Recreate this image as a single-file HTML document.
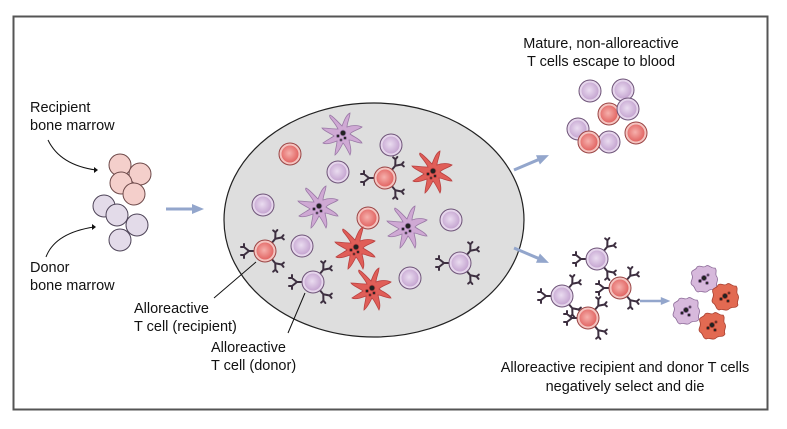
<!DOCTYPE html>
<html><head><meta charset="utf-8"><style>
html,body{margin:0;padding:0;background:#fff;width:787px;height:429px;overflow:hidden}
text{font-family:"Liberation Sans",sans-serif;font-size:14.5px;fill:#111}
</style></head><body>
<svg width="787" height="429" viewBox="0 0 787 429" xmlns="http://www.w3.org/2000/svg">
<defs>
<radialGradient id="gp" cx="0.45" cy="0.45" r="0.6"><stop offset="0" stop-color="#eadcf0"/><stop offset="1" stop-color="#c3a2cf"/></radialGradient>
<radialGradient id="gr" cx="0.45" cy="0.45" r="0.6"><stop offset="0" stop-color="#f6b0ac"/><stop offset="1" stop-color="#e0605e"/></radialGradient>
<g id="pc"><circle r="11" fill="#e6d6ec" stroke="#6e5478" stroke-width="1"/><circle r="8.5" fill="url(#gp)"/></g>
<g id="rc"><circle r="11" fill="#f4c4c0" stroke="#9a4444" stroke-width="1"/><circle r="8.5" fill="url(#gr)"/></g>
<g id="rec" stroke="#3d2f40" stroke-width="2" fill="none" stroke-linecap="round">
<path d="M10 0 L16 0 M16 0 L21 -4 M16 0 L21 4 M21 -4 L24 -4 M21 -4 L21 -7 M21 4 L24 4 M21 4 L21 7"/></g>
<g id="recs"><use href="#rec" transform="rotate(-50)"/><use href="#rec" transform="rotate(180)"/><use href="#rec" transform="rotate(50)"/></g>
<g id="ptc"><use href="#recs"/><use href="#pc"/></g>
<g id="rtc"><use href="#recs"/><use href="#rc"/></g>
<g id="dcs"><path d="M-4 -6 C-8 -14 -14 -18 -12 -20 C-8 -18 -3 -12 0 -9 C2 -14 4 -20 8 -22 C8 -18 5 -12 5 -8 C10 -10 16 -10 20 -8 C16 -5 10 -4 8 -1 C12 2 18 4 20 8 C15 8 10 5 7 5 C8 10 10 16 8 20 C6 16 3 10 1 8 C-1 12 -4 18 -7 20 C-7 15 -5 10 -5 6 C-10 8 -16 10 -19 8 C-15 5 -11 3 -8 1 C-12 -2 -18 -4 -20 -7 C-15 -7 -10 -6 -4 -6 Z"/>
<g fill="#222"><circle cx="1" cy="-2" r="2.8"/><circle cx="-4" cy="1" r="1.6"/><circle cx="3" cy="3" r="1.5"/><circle cx="-1" cy="5" r="1.3"/></g></g>
<g id="dead"><path d="M-12 -4 C-14 -10 -8 -8 -7 -12 C-4 -15 -1 -10 2 -13 C5 -15 7 -10 11 -11 C14 -8 10 -5 13 -2 C15 2 11 4 13 8 C11 12 7 9 4 12 C1 15 -2 11 -6 13 C-10 12 -8 8 -12 6 C-15 3 -10 0 -12 -4 Z"/>
<g fill="#222"><circle cx="0" cy="-1" r="2.6"/><circle cx="-4" cy="2" r="1.6"/><circle cx="3" cy="4" r="1.5"/><circle cx="4" cy="-4" r="1.2"/></g></g>
<g id="dcp"><g fill="#cfa9d4" stroke="#9a78a6" stroke-width="0.8"><use href="#dcs"/></g></g>
<g id="dcr"><g fill="#e05e58" stroke="#b94040" stroke-width="0.8"><use href="#dcs"/></g></g>
<g id="arr"><path d="M0 0 L28 0" stroke="#93a6cc" stroke-width="3"/><path d="M26 -5 L38 0 L26 5 Z" fill="#93a6cc"/></g>
</defs>

<rect x="13.5" y="16.5" width="754" height="393" fill="#fff" stroke="#555" stroke-width="2"/>

<g stroke="#6e4a4a" stroke-width="1" fill="#f4cfcb">
<circle cx="120" cy="165" r="11"/><circle cx="140" cy="174" r="11"/><circle cx="121" cy="183" r="11"/><circle cx="134" cy="194" r="11"/></g>
<g stroke="#4e4458" stroke-width="1" fill="#e3dbe9">
<circle cx="104" cy="206" r="11"/><circle cx="117" cy="215" r="11"/><circle cx="137" cy="225" r="11"/><circle cx="120" cy="240" r="11"/></g>
<text x="30" y="112">Recipient</text><text x="30" y="130">bone marrow</text>
<text x="30" y="272">Donor</text><text x="30" y="290">bone marrow</text>
<path d="M48 140 Q60 165 96 170" fill="none" stroke="#111" stroke-width="1"/><path d="M94 167 L98 170 L94 173Z" fill="#111"/>
<path d="M46 257 Q55 233 94 227" fill="none" stroke="#111" stroke-width="1"/><path d="M92 224 L96 227 L92 230Z" fill="#111"/>

<use href="#arr" transform="translate(166,209)"/>

<ellipse cx="374" cy="220" rx="150" ry="117" fill="#dedede" stroke="#222" stroke-width="1.2"/>
<use href="#dcp" transform="translate(342,135)"/>
<use href="#rc" transform="translate(290,154)"/>
<use href="#pc" transform="translate(391,145)"/>
<use href="#pc" transform="translate(338,172)"/>
<use href="#rtc" transform="translate(385,178)"/>
<use href="#dcr" transform="translate(432,173)"/>
<use href="#pc" transform="translate(263,205)"/>
<use href="#dcp" transform="translate(318,208)"/>
<use href="#rc" transform="translate(368,218)"/>
<use href="#dcp" transform="translate(407,228)"/>
<use href="#pc" transform="translate(451,220)"/>
<use href="#rtc" transform="translate(265,251)"/>
<use href="#pc" transform="translate(302,246)"/>
<use href="#dcr" transform="translate(355,249)"/>
<use href="#ptc" transform="translate(460,263)"/>
<use href="#ptc" transform="translate(313,282)"/>
<use href="#pc" transform="translate(410,278)"/>
<use href="#dcr" transform="translate(371,290)"/>

<path d="M256 262 L214 298" stroke="#111" stroke-width="1"/>
<path d="M305 293 L288 333" stroke="#111" stroke-width="1"/>
<text x="134" y="313">Alloreactive</text><text x="134" y="331">T cell (recipient)</text>
<text x="211" y="352">Alloreactive</text><text x="211" y="370">T cell (donor)</text>

<use href="#arr" transform="translate(514,170) rotate(-23)"/>
<use href="#arr" transform="translate(514,248) rotate(23)"/>

<text x="601" y="48" text-anchor="middle">Mature, non-alloreactive</text>
<text x="601" y="66" text-anchor="middle">T cells escape to blood</text>
<use href="#pc" transform="translate(590,91)"/>
<use href="#pc" transform="translate(623,90)"/>
<use href="#rc" transform="translate(609,114)"/>
<use href="#pc" transform="translate(628,109)"/>
<use href="#pc" transform="translate(578,129)"/>
<use href="#pc" transform="translate(609,142)"/>
<use href="#rc" transform="translate(589,142)"/>
<use href="#rc" transform="translate(636,133)"/>

<use href="#ptc" transform="translate(597,259)"/>
<use href="#rtc" transform="translate(620,288)"/>
<use href="#ptc" transform="translate(562,296)"/>
<use href="#rtc" transform="translate(588,318)"/>
<use href="#arr" transform="translate(640,301) scale(0.8)"/>
<g transform="translate(704,279)" fill="#d7b9dc" stroke="#8c6a98" stroke-width="0.8"><use href="#dead"/></g>
<g transform="translate(725,297)" fill="#e26a52" stroke="#a84030" stroke-width="0.8"><use href="#dead"/></g>
<g transform="translate(686,311)" fill="#d7b9dc" stroke="#8c6a98" stroke-width="0.8"><use href="#dead"/></g>
<g transform="translate(712,326)" fill="#e26a52" stroke="#a84030" stroke-width="0.8"><use href="#dead"/></g>

<text x="625" y="372" text-anchor="middle">Alloreactive recipient and donor T cells</text>
<text x="625" y="391" text-anchor="middle">negatively select and die</text>
</svg>
</body></html>
